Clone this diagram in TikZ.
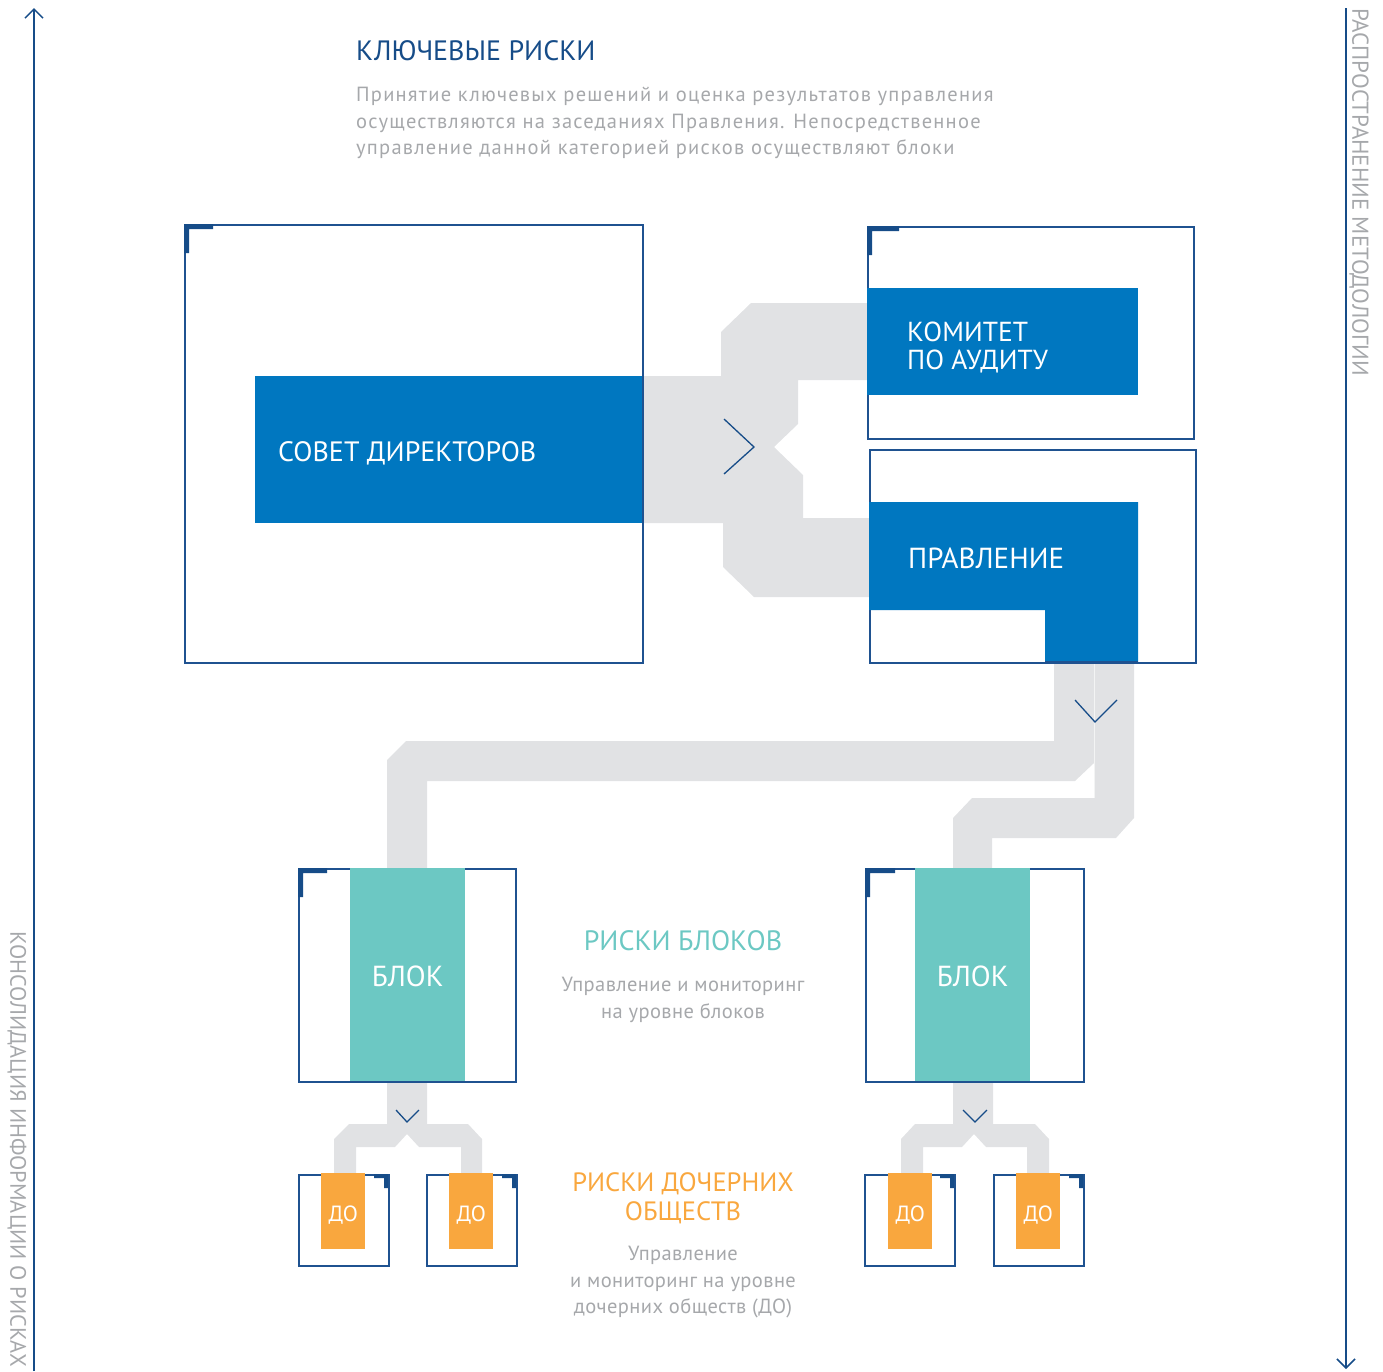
\documentclass[tikz,border=0pt]{standalone}
\usepackage{fontspec}
\setmainfont{PT Sans}
\newfontfamily\spacedfont[LetterSpace=6]{PT Sans}
\newfontfamily\descfont[LetterSpace=2]{PT Sans}
\usetikzlibrary{arrows.meta}
\definecolor{dblue}{HTML}{164C88}
\definecolor{frameblue}{HTML}{1F5290}
\definecolor{mblue}{HTML}{0077C0}
\definecolor{teal}{HTML}{6CC8C3}
\definecolor{orng}{HTML}{F9A73E}
\definecolor{lgray}{HTML}{E1E2E4}
\definecolor{tgray}{HTML}{A6A8AB}
\begin{document}
\begin{tikzpicture}[x=1pt,y=-1pt,
  frame/.style={draw=frameblue, line width=1.5pt, fill=white, inner sep=0pt, anchor=north west},
  bluebar/.style={fill=mblue, inner sep=0pt, anchor=north west},
  bartext/.style={inner sep=0pt, text=white, anchor=west, align=left},
  tealbar/.style={fill=teal, inner sep=0pt, anchor=north west, minimum width=115pt, minimum height=213pt},
  blktext/.style={inner sep=0pt, text=white, font=\fontsize{29}{28}\selectfont, yshift=-2pt},
  dobar/.style={fill=orng, inner sep=0pt, anchor=north west, minimum width=44pt, minimum height=76pt},
  dotext/.style={inner sep=0pt, text=white, font=\fontsize{22}{22}\selectfont, yshift=-4pt},
  conn/.style={fill=lgray},
  chev/.style={draw=dblue, line width=1.3pt},
  cornermark/.style={fill=dblue},
  axis/.style={draw=dblue, line width=1.5pt, -{Straight Barb[length=9pt,width=18pt]}},
  sidetext/.style={text=tgray, rotate=-90, anchor=west, inner sep=0pt},
  desc/.style={text=tgray, font=\descfont\fontsize{20.5}{26.5}\selectfont, align=center, inner sep=0pt},
]
\useasboundingbox (0,0) rectangle (1383,1371);

% side axes
\coordinate (lbot) at (34,1371);
\coordinate (ltop) at (34,8);
\draw[axis] (lbot) -- (ltop);
\coordinate (rtop) at (1346,8);
\coordinate (rbot) at (1346,1369);
\draw[axis] (rtop) -- (rbot);
\node[sidetext, font=\fontsize{22.3}{22}\selectfont] (ltext) at (17,931) {КОНСОЛИДАЦИЯ ИНФОРМАЦИИ О РИСКАХ};
\node[sidetext, font=\fontsize{23}{23}\selectfont] (rtext) at (1359,8) {РАСПРОСТРАНЕНИЕ МЕТОДОЛОГИИ};

% header
\node[anchor=base west, inner sep=0pt, text=dblue, font=\fontsize{28}{28}\selectfont] (title) at (356,60) {КЛЮЧЕВЫЕ РИСКИ};
\node[anchor=north west, inner sep=0pt, text=tgray, font=\spacedfont\fontsize{20.5}{26.5}\selectfont, align=left] (intro) at (356,87)
 {Принятие ключевых решений и оценка результатов управления\\
  осуществляются на заседаниях Правления. Непосредственное\\
  управление данной категорией рисков осуществляют блоки};

% gray connectors (top)
\fill[conn] (642,376) -- (721,376) -- (721,332) -- (751,303) -- (867,303) -- (867,380) -- (798,380) -- (798,424) -- (774,447) -- (803,475) -- (803,518) -- (869,518) -- (869,597) -- (754,597) -- (723,567) -- (723,523) -- (642,523) -- cycle;
\fill[conn] (1054,662) -- (1094,662) -- (1094,763) -- (1075,781) -- (427,781) -- (427,868) -- (387,868) -- (387,760) -- (406,741) -- (1054,741) -- cycle;
\fill[conn] (1094,662) -- (1134,662) -- (1134,818) -- (1116,838) -- (992,838) -- (992,868) -- (953,868) -- (953,818) -- (972,798) -- (1094,798) -- cycle;
\draw[white!60!lgray, line width=0.6pt] (1094,662) -- (1094,798);
% gray connectors (bottom)
\fill[conn] (387,1081) -- (427,1081) -- (427,1124) -- (468,1124) -- (482,1139) -- (482,1174) -- (461,1174) -- (461,1147) -- (419,1147) -- (407,1134) -- (395,1147) -- (356,1147) -- (356,1174) -- (334,1174) -- (334,1139) -- (349,1124) -- (387,1124) -- cycle;
\fill[conn] (953,1081) -- (993,1081) -- (993,1124) -- (1035,1124) -- (1049,1139) -- (1049,1174) -- (1027,1174) -- (1027,1147) -- (986,1147) -- (974,1134) -- (962,1147) -- (923,1147) -- (923,1174) -- (901,1174) -- (901,1139) -- (915,1124) -- (953,1124) -- cycle;

% board
\node[frame, minimum width=458pt, minimum height=438pt] (boardframe) at (184,224) {};
\fill[cornermark] (184,224) -- (213,224) -- (213,229) -- (189,229) -- (189,253) -- (184,253) -- cycle;
\node[bluebar, minimum width=387pt, minimum height=147pt] (board) at (255,376) {};
\node[bartext, font=\fontsize{28}{28}\selectfont] (boardtxt) at ([xshift=23pt, yshift=-4pt]board.west) {СОВЕТ ДИРЕКТОРОВ};

% audit committee
\node[frame, minimum width=326pt, minimum height=212pt] (auditframe) at (867,226) {};
\fill[cornermark] (867,226) -- (899,226) -- (899,231) -- (872,231) -- (872,255) -- (867,255) -- cycle;
\node[bluebar, minimum width=271pt, minimum height=107pt] (audit) at (867,288) {};
\node[bartext, font=\fontsize{27.5}{28}\selectfont] (audittxt) at ([xshift=40pt, yshift=-6pt]audit.west) {КОМИТЕТ\\ПО АУДИТУ};

% management
\node[frame, minimum width=326pt, minimum height=213pt] (mgmtframe) at (869,449) {};
\fill[mblue] (869,502) -- (1138,502) -- (1138,662) -- (1045,662) -- (1045,610) -- (869,610) -- cycle;
\draw[frameblue, line width=1.5pt] (1045,662) -- (1138,662);
\node[bartext, font=\fontsize{29}{28}\selectfont] (mgmt) at (908,558) {ПРАВЛЕНИЕ};

% chevrons
\coordinate (c1a) at (724,419); \coordinate (c1b) at (754,447); \coordinate (c1c) at (724,474);
\draw[chev] (c1a) -- (c1b) -- (c1c);
\coordinate (c2a) at (1075,700); \coordinate (c2b) at (1095,722); \coordinate (c2c) at (1117,700);
\draw[chev] (c2a) -- (c2b) -- (c2c);
\coordinate (c3a) at (396,1110); \coordinate (c3b) at (407,1122); \coordinate (c3c) at (419,1110);
\draw[chev] (c3a) -- (c3b) -- (c3c);
\coordinate (c4a) at (963,1110); \coordinate (c4b) at (975,1122); \coordinate (c4c) at (987,1110);
\draw[chev] (c4a) -- (c4b) -- (c4c);

% blocks
\node[frame, minimum width=217pt, minimum height=213pt] (blk1frame) at (298,868) {};
\fill[cornermark] (298,868) -- (327,868) -- (327,873) -- (303,873) -- (303,897) -- (298,897) -- cycle;
\node[tealbar] (blk1) at (350,868) {};
\node[blktext] (blk1txt) at (blk1.center) {БЛОК};
\node[frame, minimum width=218pt, minimum height=213pt] (blk2frame) at (865,868) {};
\fill[cornermark] (865,868) -- (895,868) -- (895,873) -- (870,873) -- (870,897) -- (865,897) -- cycle;
\node[tealbar] (blk2) at (915,868) {};
\node[blktext] (blk2txt) at (blk2.center) {БЛОК};

% DO boxes
\foreach \n/\x/\ox in {do1/298/321, do2/426/449, do3/864/888, do4/993/1016}{
  \node[frame, minimum width=90pt, minimum height=91pt] (\n frame) at (\x,1174) {};
  \fill[cornermark] (\x+76,1174) -- (\x+90,1174) -- (\x+90,1188) -- (\x+86,1188) -- (\x+86,1178) -- (\x+76,1178) -- cycle;
  \node[dobar] (\n) at (\ox,1173) {};
  \node[dotext] (\n txt) at (\n.center) {ДО};
}

% middle texts
\node[anchor=base, inner sep=0pt, text=teal, font=\fontsize{28}{28}\selectfont] (rb) at (683,950) {РИСКИ БЛОКОВ};
\node[desc, anchor=north] (rbdesc) at (683,977) {Управление и мониторинг\\на уровне блоков};
\node[anchor=north, inner sep=0pt, text=orng, font=\fontsize{26.5}{29}\selectfont, align=center] (rdo) at (683,1172) {РИСКИ ДОЧЕРНИХ\\ОБЩЕСТВ};
\node[desc, anchor=north] (rdodesc) at (683,1246) {Управление\\и мониторинг на уровне\\дочерних обществ (ДО)};
\end{tikzpicture}
\end{document}
